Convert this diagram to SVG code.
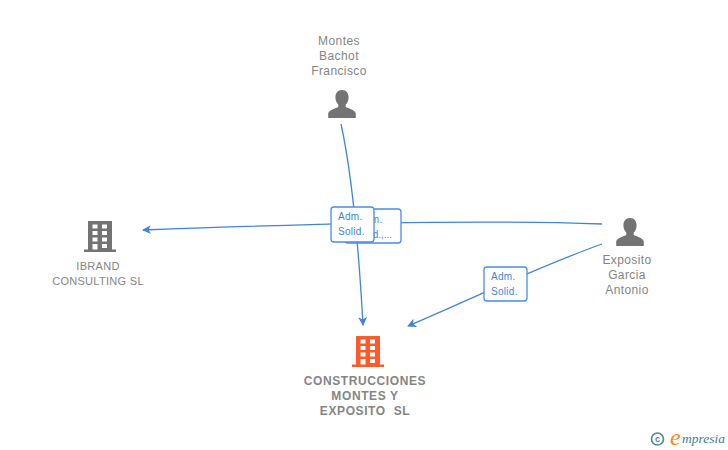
<svg xmlns="http://www.w3.org/2000/svg" width="728" height="450" viewBox="0 0 728 450">
<style>
.t{font-family:"Liberation Sans",Arial,sans-serif;font-size:12px;letter-spacing:.4px;fill:#858585;text-anchor:middle}
.b{font-weight:700;font-size:12px;letter-spacing:.6px}
.c{font-size:11px;letter-spacing:.3px}
.e{fill:none;stroke:#3f85e0;stroke-width:1.3}
.lb{fill:#fff;stroke:#4a8ce6;stroke-width:1.3}
.l{font-family:"Liberation Sans",Arial,sans-serif;font-size:10px;letter-spacing:.3px;fill:#3f85e0}
.p{fill:#737373}
</style>
<defs>
<marker id="a" viewBox="0 0 10 10" refX="8" refY="5" markerWidth="10" markerHeight="10" markerUnits="userSpaceOnUse" orient="auto"><path d="M9 5L0 9.500L2.500 5L0 .500Z" fill="#3f85e0"/></marker>
<path id="person" d="M0-14c-4.200 0-6.600 3.200-6.600 7.300 0 3 1.200 5.700 2.900 7.300v2.300c-3.800 1.700-9.800 3.400-10.100 6.600v4.500h27.600v-4.500c-.300-3.200-6.300-4.900-10.100-6.600v-2.300c1.700-1.600 2.900-4.300 2.900-7.300C6.600-10.800 4.200-14 0-14Z"/>
<g id="bld">
<path fill-rule="evenodd" d="M-12-16H12V12.500H16V15H-16V12.500H-12ZM-7.500-12.500V-8.500H-2.500V-12.500ZM2-12.500V-8.500H7V-12.500ZM-7.500-6V-2H-2.500V-6ZM2-6V-2H7V-6ZM-7.500.500V4.500H-2.500V.500ZM2 .500V4.500H7V.500ZM-7.500 7V12.500H-2.500V7ZM2 7V11H7V7Z"/>
</g>
</defs>
<g id="connectors">
<path class="e" d="M341 124C350 165 358 235 363 325" marker-end="url(#a)"/>
<path class="e" d="M602 224C500 220 350 222 143 230" marker-end="url(#a)"/>
<path class="e" d="M602 244C540 266 480 295 408 326" marker-end="url(#a)"/>
</g>
<g id="node-montes"><text class="t" x="339" y="45">Montes</text><text class="t" x="339" y="60">Bachot</text><text class="t" x="339" y="75">Francisco</text><use href="#person" class="p" x="342" y="104"/></g>
<g id="node-exposito"><use href="#person" class="p" x="630" y="232"/><text class="t" x="627" y="264">Exposito</text><text class="t" x="627" y="279">Garcia</text><text class="t" x="627" y="294">Antonio</text></g>
<g id="node-ibrand"><use href="#bld" x="100" y="237" fill="#737373"/><text class="t c" x="98" y="270">IBRAND</text><text class="t c" x="98" y="285">CONSULTING SL</text></g>
<g id="node-construcciones"><use href="#bld" x="368" y="352" fill="#ff5a2b"/><text class="t b" x="365" y="385">CONSTRUCCIONES</text><text class="t b" x="365" y="400">MONTES Y</text><text class="t b" x="365" y="415">EXPOSITO&#160; SL</text></g>
<g id="label-back"><rect class="lb" x="345" y="209" width="56" height="34" rx="3"/><text class="l" x="358" y="222.500">Adm.</text><text class="l" x="356" y="237.500" style="letter-spacing:0">Solid.,...</text></g>
<g id="label-front"><rect class="lb" x="331" y="207" width="43" height="35" rx="3"/><text class="l" x="338" y="220">Adm.</text><text class="l" x="338" y="235">Solid.</text></g>
<g id="label-right"><rect class="lb" x="484" y="267" width="43" height="34" rx="3"/><text class="l" x="491" y="280">Adm.</text><text class="l" x="491" y="295">Solid.</text></g>
<g id="logo">
<circle cx="657.500" cy="439" r="6" fill="none" stroke="#4f8a9e" stroke-width="1.700"/>
<text x="657.500" y="442" font-family="Liberation Sans,sans-serif" font-size="9" font-weight="700" fill="#4f8a9e" text-anchor="middle">c</text>
<text x="670" y="445" font-family="Liberation Serif,serif" font-style="italic" font-size="24" fill="#f08a1d">e</text>
<text x="682" y="443" font-family="Liberation Serif,serif" font-style="italic" font-size="13.500" fill="#3d7f95">mpresia</text>
</g>
</svg>
